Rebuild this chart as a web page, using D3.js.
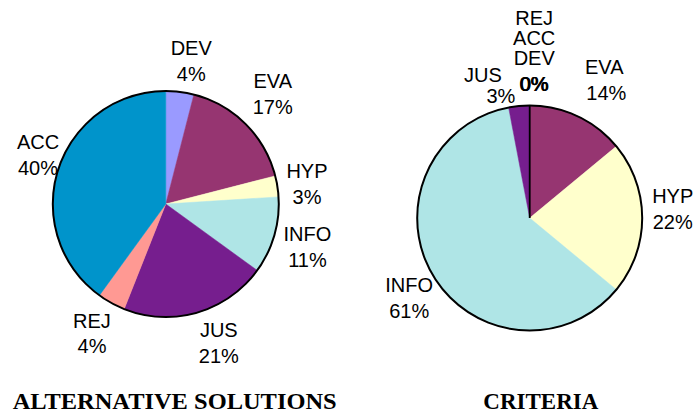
<!DOCTYPE html>
<html>
<head>
<meta charset="utf-8">
<script src="https://cdn.jsdelivr.net/npm/d3@7"></script>
<style>
  html, body { margin: 0; padding: 0; background: #fff; }
  svg { display: block; }
</style>
</head>
<body>
<svg id="chart" width="697" height="418"></svg>
<script>
// ---- data ----
const leftCategories  = ["DEV", "EVA", "HYP", "INFO", "JUS", "REJ", "ACC"];
const leftValues      = [4, 17, 3, 11, 21, 4, 40];
const rightCategories = ["REJ", "ACC", "DEV", "EVA", "HYP", "INFO", "JUS"];
const rightValues     = [0, 0, 0, 14, 22, 61, 3];
const chartTitles     = ["ALTERNATIVE SOLUTIONS", "CRITERIA"];

// ---- styling / layout ----
const colorMap = {
  DEV: "#9a9aff", EVA: "#963571", HYP: "#ffffcc", INFO: "#afe5e6",
  JUS: "#761e8e", REJ: "#ff9993", ACC: "#0094cb"
};
const pies = [
  { cats: leftCategories, vals: leftValues, cx: 165.8, cy: 204, r: 113, labelR: 147,
    title: chartTitles[0], titleX: 174.7, titleW: 324,
    nudge: { DEV:[7,2.5], EVA:[3,-6], HYP:[-4,3], INFO:[0.5,2], JUS:[12,-2], REJ:[-3,0.5], ACC:[12,-4] },
    pctNudge: {} },
  { cats: rightCategories, vals: rightValues, cx: 529.7, cy: 218, r: 112.5, labelR: 147,
    title: chartTitles[1], titleX: 540.8, titleW: 115,
    nudge: { EVA:[12,-5], HYP:[-4,-9], INFO:[6,5], JUS:[-33,15.8], ZERO:[4.5,0] },
    pctNudge: { JUS:[18,-4.8], EVA:[2,0] } }
];

const svg = d3.select("#chart");
const font = "'Liberation Sans', Arial, Helvetica, sans-serif";
const lineGap = 25.7, nameGap = 20, capH = 14.3;

pies.forEach(p => {
  const data = p.cats.map((c, i) => ({ cat: c, value: p.vals[i] }));
  const pie = d3.pie().sort(null).value(d => d.value).startAngle(0).endAngle(2 * Math.PI);
  const arcs = pie(data);
  const arc = d3.arc().innerRadius(0).outerRadius(p.r);
  const g = svg.append("g").attr("transform", `translate(${p.cx},${p.cy})`);

  g.selectAll("path.slice").data(arcs.filter(d => d.value > 0)).join("path")
    .attr("class", "slice")
    .attr("d", arc)
    .attr("fill", d => colorMap[d.data.cat])
    .attr("stroke", d => colorMap[d.data.cat])
    .attr("stroke-width", 0.5);

  // zero-value slices drawn as a radial edge
  const zeros = arcs.filter(d => d.value === 0);
  if (zeros.length) {
    const a = zeros[0].startAngle;
    g.append("line")
      .attr("x1", 0).attr("y1", 0)
      .attr("x2", p.r * Math.sin(a)).attr("y2", -p.r * Math.cos(a))
      .attr("stroke", "#000").attr("stroke-width", 1.8);
  }

  g.append("circle").attr("r", p.r).attr("fill", "none")
    .attr("stroke", "#000").attr("stroke-width", 2);

  // labels
  const lab = svg.append("g").attr("font-family", font).attr("font-size", 20).attr("fill", "#000")
    .attr("text-anchor", "middle");
  const fmt = v => Math.round(v) + "%";

  arcs.filter(d => d.value > 0).forEach(d => {
    const a = (d.startAngle + d.endAngle) / 2;
    const n = p.nudge[d.data.cat] || [0, 0];
    const pn = p.pctNudge[d.data.cat] || [0, 0];
    const x = p.cx + p.labelR * Math.sin(a) + n[0];
    const y = p.cy - p.labelR * Math.cos(a) + n[1];
    const b1 = y - (lineGap + capH) / 2 + capH;
    lab.append("text").attr("x", x).attr("y", b1).text(d.data.cat);
    lab.append("text").attr("x", x + pn[0]).attr("y", b1 + lineGap + pn[1]).text(fmt(d.value));
  });

  if (zeros.length) {
    const a = zeros[0].startAngle;
    const n = p.nudge.ZERO || [0, 0];
    const x = p.cx + p.labelR * Math.sin(a) + n[0];
    const y = p.cy - p.labelR * Math.cos(a) + n[1];
    const bLast = y - (lineGap + capH) / 2 + capH;
    zeros.forEach((d, i) => {
      lab.append("text").attr("x", x).attr("y", bLast - (zeros.length - 1 - i) * nameGap).text(d.data.cat);
      // overlapping percentage labels of the zero slices
      lab.append("text").attr("x", x - 0.5 + i * 0.5).attr("y", bLast + lineGap).text(fmt(d.value));
    });
  }

  svg.append("text")
    .attr("x", p.titleX).attr("y", 409)
    .attr("text-anchor", "middle")
    .attr("font-family", "'Liberation Serif', 'Times New Roman', serif")
    .attr("font-weight", "bold").attr("font-size", 23.8)
    .attr("textLength", p.titleW)
    .attr("lengthAdjust", "spacingAndGlyphs")
    .text(p.title);
});
</script>
</body>
</html>
